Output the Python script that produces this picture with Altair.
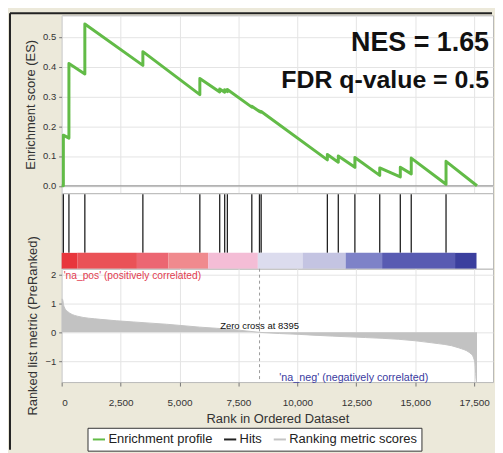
import altair as alt
import pandas as pd

# ---------------- data ----------------
es_rank = [0, 72, 72, 308, 308, 983, 983, 3445, 3445, 5862, 5862, 6705, 6705,
           6916, 6916, 7030, 7030, 8067, 8067, 8392, 8392, 8464, 8464, 11272, 11272,
           11736, 11736, 12440, 12440, 13494, 13494, 14367, 14367, 14831, 14831,
           16307, 16307, 17620]
es_value = [0.0, 0.0, 0.17, 0.16, 0.41, 0.375, 0.543, 0.404, 0.45, 0.306, 0.36, 0.315, 0.325,
            0.314, 0.322, 0.316, 0.323, 0.264, 0.267, 0.249, 0.251, 0.247, 0.249, 0.087, 0.105,
            0.079, 0.100, 0.062, 0.095, 0.035, 0.060, 0.030, 0.062, 0.040, 0.093,
            0.005, 0.082, 0.0]

hit_rank = [72, 308, 983, 3445, 5862, 6705, 6916, 7030, 8067, 8392, 8464,
            11272, 11736, 12440, 13494, 14367, 14831, 16307]

metric_rank = [0, 30, 97, 240, 662, 1645, 3036, 4457, 5862, 7253, 8395,
               10078, 11475, 12890, 14296, 15687, 16826, 17386, 17530, 17598, 17620]
metric_value = [1.15, 1.15, 0.9, 0.73, 0.56, 0.45, 0.36, 0.28, 0.18, 0.1, 0.0,
                -0.07, -0.13, -0.18, -0.24, -0.36, -0.53, -0.76, -1.05, -1.72, -1.72]

bar_start = [0, 662, 3193, 4528, 6214, 8323, 10220, 12047, 13594, 16689]
bar_end = [662, 3193, 4528, 6214, 8323, 10220, 12047, 13594, 16689, 17600]
bar_color = ["#e8363c", "#ea5257", "#ec6672", "#f08a8e", "#f4bdd6",
             "#dcdcee", "#c4c4e2", "#7e82c8", "#585bb2", "#3b3f9e"]

x_ticks = [0, 2500, 5000, 7500, 10000, 12500, 15000, 17500]
es_ticks = [0.0, 0.1, 0.2, 0.3, 0.4, 0.5]
metric_ticks = [-1, 0, 1, 2]
series = ["Enrichment profile", "Hits", "Ranking metric scores"]
series_colors = ["#62bb47", "#222222", "#c4c4c4"]

nes_text = "NES = 1.65"
fdr_text = "FDR q-value = 0.5"
zero_text = "Zero cross at 8395"
pos_text = "'na_pos' (positively correlated)"
neg_text = "'na_neg' (negatively correlated)"

# ---------------- chart ----------------
W = 434
FONT = "Liberation Sans"
xscale = alt.Scale(domain=[0, 18300], nice=False, zero=False)
cscale = alt.Scale(domain=series, range=series_colors)
grid_color = "#e4e4e4"

es_xaxis = alt.Axis(values=x_ticks, labels=False, ticks=False, domain=False,
                    title=None, grid=True, gridColor=grid_color)
es_yaxis = alt.Axis(values=es_ticks, format=".1f", title="Enrichment score (ES)",
                    grid=True, gridColor=grid_color, labelOverlap=False)
es_yscale = alt.Scale(domain=[-0.025, 0.572], nice=False, zero=False)

es_df = pd.DataFrame({"rank": es_rank, "es": es_value, "idx": list(range(len(es_rank)))})
es_df["series"] = series[0]

es_line = alt.Chart(es_df).mark_line(strokeWidth=3, strokeJoin="round").encode(
    x=alt.X("rank:Q", scale=xscale, axis=es_xaxis),
    y=alt.Y("es:Q", scale=es_yscale, axis=es_yaxis),
    color=alt.Color("series:N", scale=cscale),
    order="idx:Q",
)
zero_rule = alt.Chart(pd.DataFrame({"es": [0.0]})).mark_rule(color="#9a9a9a", strokeWidth=1.2).encode(
    y=alt.Y("es:Q", scale=es_yscale, axis=es_yaxis))
nes = alt.Chart(pd.DataFrame({"t": [nes_text]})).mark_text(
    font=FONT, fontSize=27, fontWeight="bold", align="right", color="#111").encode(
    text="t:N", x=alt.value(430), y=alt.value(28))
fdr = alt.Chart(pd.DataFrame({"t": [fdr_text]})).mark_text(
    font=FONT, fontSize=25, fontWeight="bold", align="right", color="#111").encode(
    text="t:N", x=alt.value(430), y=alt.value(65))
# frame lines of the figure
frame_left = alt.Chart(pd.DataFrame({"a": [0]})).mark_rule(color="#222", strokeWidth=2).encode(
    x=alt.value(-52), y=alt.value(-2), y2=alt.value(437))
frame_top = alt.Chart(pd.DataFrame({"a": [0]})).mark_rule(color="#222", strokeWidth=2).encode(
    x=alt.value(-52), x2=alt.value(433), y=alt.value(-2))

es_panel = alt.layer(zero_rule, es_line, nes, fdr, frame_left, frame_top).properties(width=W, height=179)

hits_df = pd.DataFrame({"rank": hit_rank})
hits_df["series"] = series[1]
bar_df = pd.DataFrame({"s": bar_start, "e": bar_end, "c": bar_color})

hits = alt.Chart(hits_df).mark_rule(strokeWidth=1.3).encode(
    x=alt.X("rank:Q", scale=xscale, axis=None),
    y=alt.value(1), y2=alt.value(60),
    color=alt.Color("series:N", scale=cscale),
)
bars = alt.Chart(bar_df).mark_rect().encode(
    x="s:Q", x2="e:Q", y=alt.value(60), y2=alt.value(76),
    fill=alt.Fill("c:N", scale=None),
)
hits_panel = alt.layer(hits, bars).properties(width=W, height=76)

met_xaxis = alt.Axis(values=x_ticks, format=",d", title="Rank in Ordered Dataset",
                     grid=True, gridColor=grid_color, tickSize=4, labelPadding=12,
                     titlePadding=5, labelOverlap=False, labelFontSize=10)
met_yaxis = alt.Axis(values=metric_ticks, format="d", title="Ranked list metric (PreRanked)",
                     grid=True, gridColor=grid_color, labelOverlap=False)
met_yscale = alt.Scale(domain=[-1.72, 2.2], nice=False, zero=False)

met_df = pd.DataFrame({"rank": metric_rank, "m": metric_value})
met_df["series"] = series[2]
met_area = alt.Chart(met_df).mark_area(color="#c2c2c2", interpolate="monotone").encode(
    x=alt.X("rank:Q", scale=xscale, axis=met_xaxis),
    y=alt.Y("m:Q", scale=met_yscale, axis=met_yaxis),
    y2=alt.datum(0),
)
met_line = alt.Chart(met_df).mark_line(strokeWidth=1, interpolate="monotone").encode(
    x=alt.X("rank:Q", scale=xscale, axis=met_xaxis),
    y=alt.Y("m:Q", scale=met_yscale, axis=met_yaxis),
    color=alt.Color("series:N", scale=cscale))
zero_dash = alt.Chart(pd.DataFrame({"rank": [8395]})).mark_rule(
    color="#9a9a9a", strokeDash=[3, 3], strokeWidth=1).encode(
    x=alt.X("rank:Q", scale=xscale, axis=met_xaxis))
zero_lbl = alt.Chart(pd.DataFrame({"rank": [8395], "t": [zero_text]})).mark_text(
    font=FONT, fontSize=9.5, color="#111", baseline="bottom", dy=-1).encode(
    x=alt.X("rank:Q", scale=xscale, axis=met_xaxis), y=alt.value(64), text="t:N")
pos_lbl = alt.Chart(pd.DataFrame({"t": [pos_text]})).mark_text(
    font=FONT, fontSize=10.3, color="#e23c50", align="left", baseline="middle").encode(
    x=alt.value(2), y=alt.value(7), text="t:N")
neg_lbl = alt.Chart(pd.DataFrame({"t": [neg_text]})).mark_text(
    font=FONT, fontSize=10.8, color="#3a3aa0", align="left", baseline="middle").encode(
    x=alt.value(219), y=alt.value(110), text="t:N")

met_panel = alt.layer(met_area, met_line, zero_dash, zero_lbl, pos_lbl, neg_lbl).properties(
    width=W, height=114)

chart = alt.vconcat(es_panel, hits_panel, met_panel, spacing=0, bounds="flush").properties(
    background="#ece9da",
    padding={"left": 0, "top": 2, "right": 0, "bottom": 0},
).configure_view(
    stroke="#b8b8b8", fill="white"
).configure_axis(
    labelFont=FONT, labelFontSize=9.5, labelColor="#333",
    titleFont=FONT, titleFontSize=13, titleFontWeight="normal", titleColor="#333",
    domain=False, tickColor="#777", tickSize=3, labelPadding=3, titlePadding=5,
    labelOverlap=False,
).configure_legend(
    orient="none", legendX=26, legendY=415, direction="horizontal",
    title=None, fillColor="white", strokeColor="#333", padding=4,
    symbolType="stroke", symbolStrokeWidth=2, symbolSize=150,
    labelFont=FONT, labelFontSize=13, labelColor="#222", columnPadding=7, labelOffset=2,
)

chart.save("out.html", embed_options={"renderer": "svg", "actions": False})
